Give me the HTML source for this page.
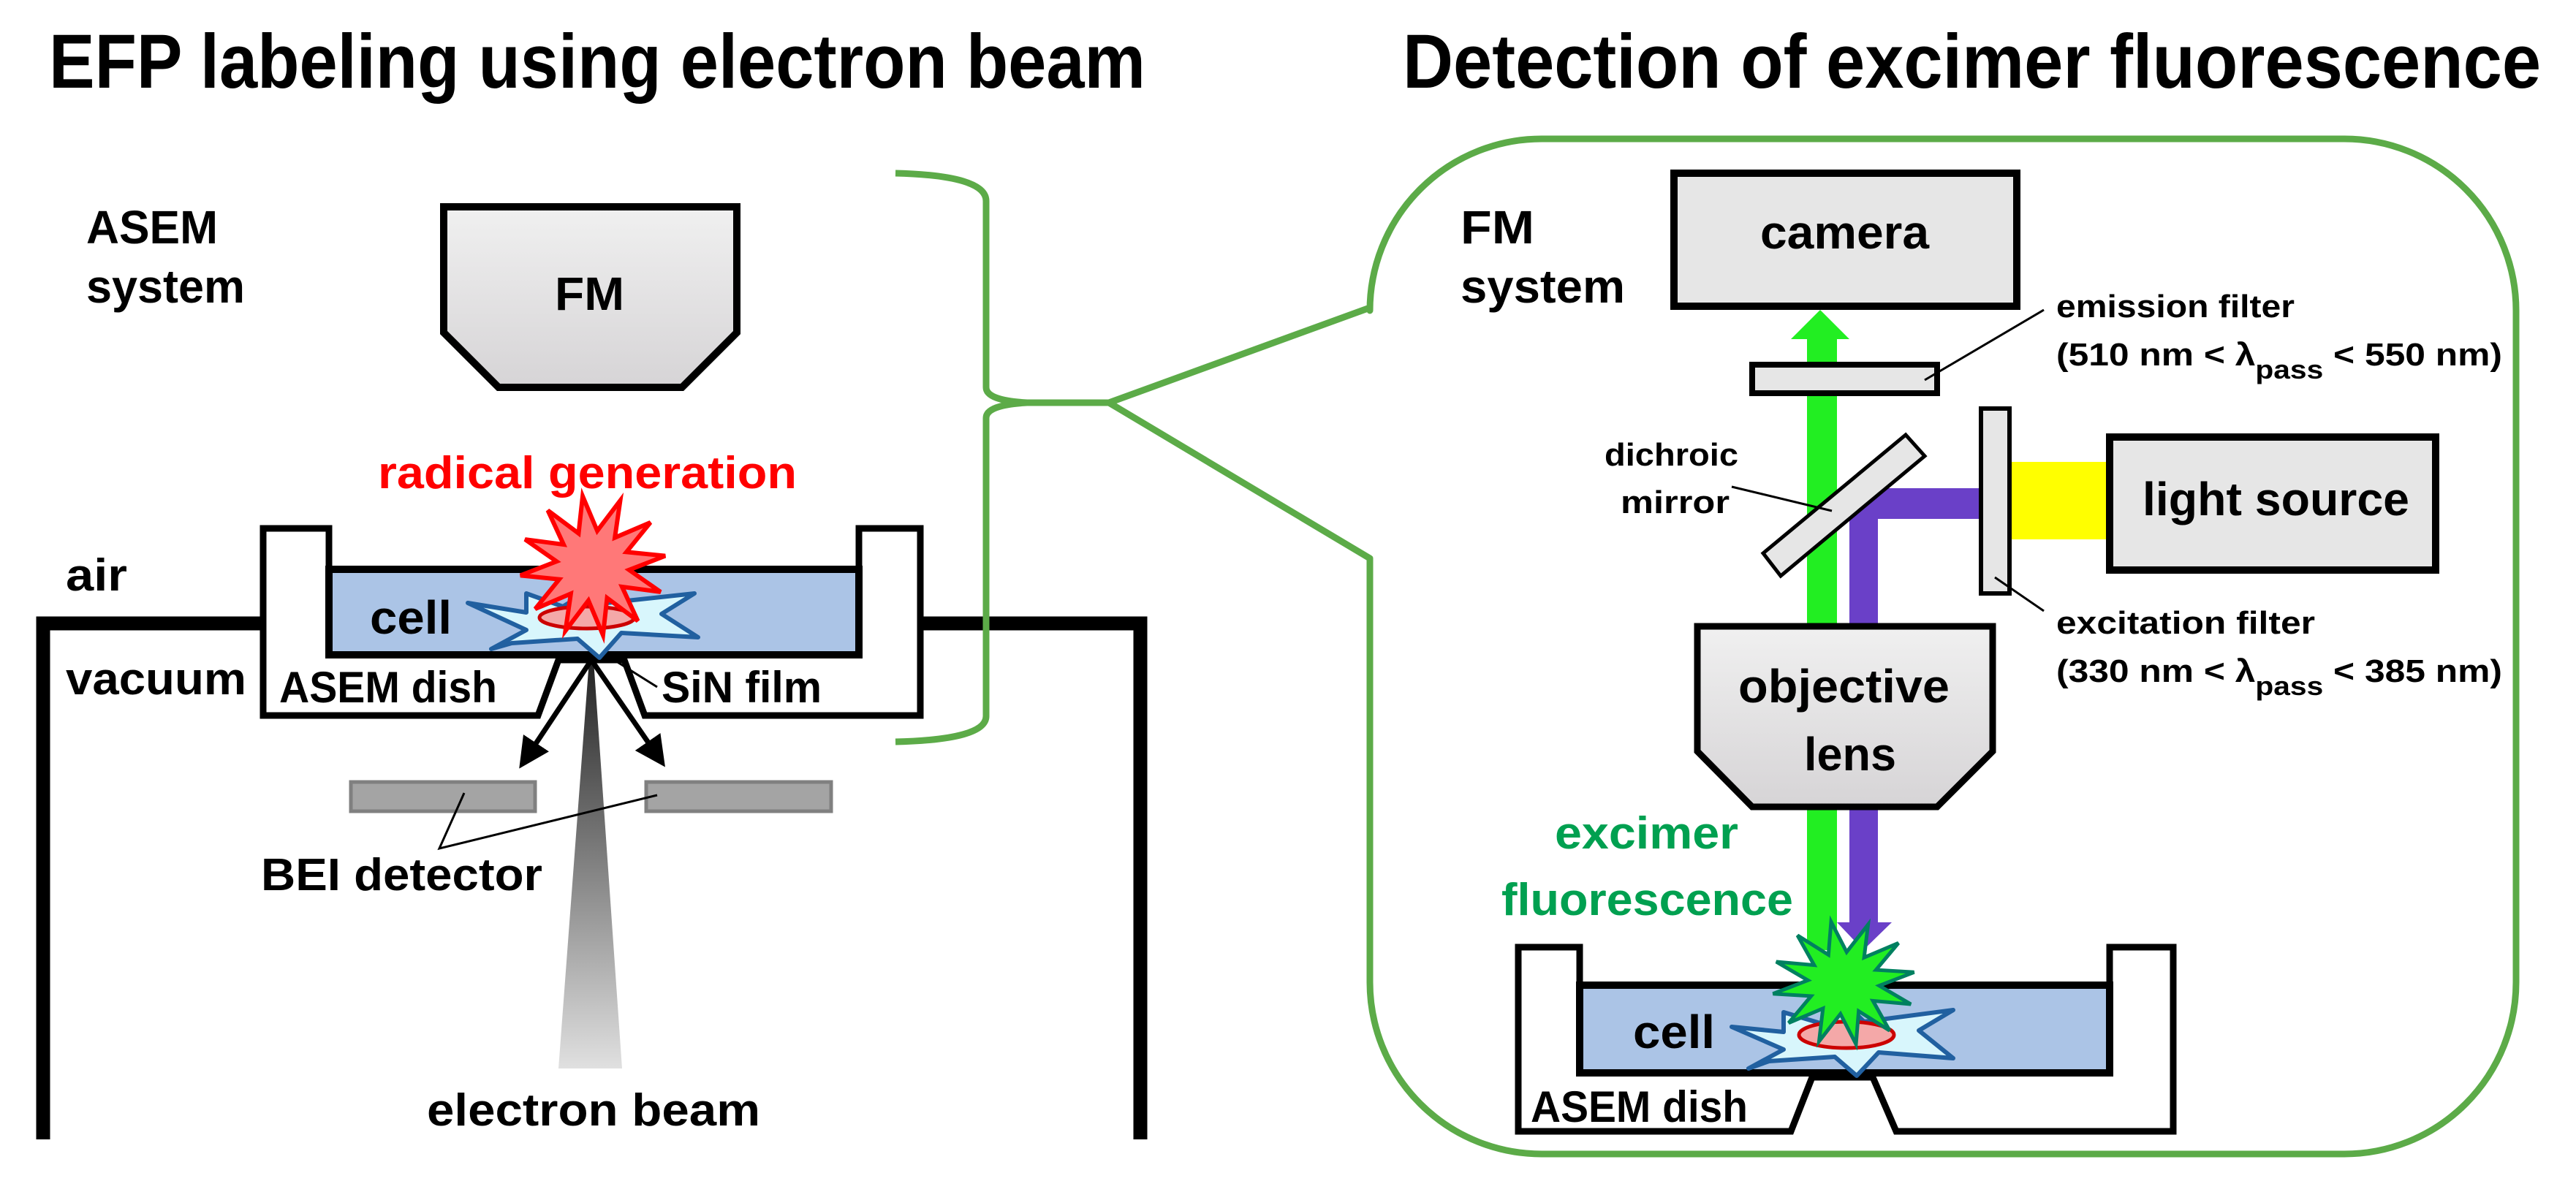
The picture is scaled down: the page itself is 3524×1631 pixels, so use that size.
<!DOCTYPE html>
<html><head><meta charset="utf-8"><style>html,body{margin:0;padding:0;background:#fff}svg{display:block}text{font-family:"Liberation Sans",sans-serif;font-weight:bold}</style></head>
<body>
<svg width="3524" height="1631" viewBox="0 0 3524 1631" xmlns="http://www.w3.org/2000/svg">
<defs>
<linearGradient id="gr" x1="0" y1="0" x2="0" y2="1"><stop offset="0" stop-color="#f0f0f0"/><stop offset="1" stop-color="#d6d4d6"/></linearGradient>
<linearGradient id="beam" x1="0" y1="0" x2="0" y2="1"><stop offset="0" stop-color="#222"/><stop offset="1" stop-color="#e0e0e0"/></linearGradient>
<marker id="ah" markerWidth="6" markerHeight="6" refX="4" refY="3" orient="auto" markerUnits="strokeWidth"><path d="M0,0 L6,3 L0,6 Z" fill="#000"/></marker>
</defs>
<!-- titles -->
<text x="67" y="120" font-size="105" textLength="1500" lengthAdjust="spacingAndGlyphs">EFP labeling using electron beam</text>
<text x="1919" y="120" font-size="105" textLength="1557" lengthAdjust="spacingAndGlyphs">Detection of excimer fluorescence</text>

<!-- LEFT PANEL -->
<text x="118" y="333" font-size="64" textLength="180" lengthAdjust="spacingAndGlyphs">ASEM</text>
<text x="118" y="414" font-size="64" textLength="217" lengthAdjust="spacingAndGlyphs">system</text>
<polygon points="607,283 1008,283 1008,455 933,530 682,530 607,455" fill="url(#gr)" stroke="#000" stroke-width="10"/>
<text x="759" y="424" font-size="64" textLength="95" lengthAdjust="spacingAndGlyphs">FM</text>

<!-- chamber -->
<polyline points="59,1559 59,853 360,853" fill="none" stroke="#000" stroke-width="19"/>
<polyline points="1259,853 1560,853 1560,1559" fill="none" stroke="#000" stroke-width="19"/>
<text x="90" y="808" font-size="62" textLength="84" lengthAdjust="spacingAndGlyphs">air</text>
<text x="90" y="950" font-size="62" textLength="247" lengthAdjust="spacingAndGlyphs">vacuum</text>

<!-- beam -->
<polygon points="806,903 812,903 851,1462 764,1462" fill="url(#beam)"/>

<!-- dish -->
<polygon points="360,723 450,723 450,779 1175,779 1175,723 1259,723 1259,979 882,979 854,903 764,903 736,979 360,979" fill="#fff" stroke="#000" stroke-width="9"/>
<rect x="450" y="779" width="725" height="117" fill="#abc4e6" stroke="#000" stroke-width="10"/>
<path d="M640,825 L720,838 L720,812 L770,830 L810,805 L830,825 L950,812 L905,840 L955,872 L850,866 L820,900 L790,874 L700,880 L672,888 L720,862 Z" fill="#d8f6fc" stroke="#2160a0" stroke-width="6" stroke-linejoin="round"/>
<ellipse cx="803" cy="845" rx="65" ry="15" fill="#f4a8a8" stroke="#c00" stroke-width="5"/>
<polygon transform="translate(811,774) scale(100,96) rotate(-8)" vector-effect="non-scaling-stroke" points="1,0 .483,.129 .866,.5 .354,.354 .5,.866 .129,.483 0,1 -.129,.483 -.5,.866 -.354,.354 -.866,.5 -.483,.129 -1,0 -.483,-.129 -.866,-.5 -.354,-.354 -.5,-.866 -.129,-.483 0,-1 .129,-.483 .5,-.866 .354,-.354 .866,-.5 .483,-.129" fill="#ff7878" stroke="#ff0000" stroke-width="6" style="vector-effect:non-scaling-stroke"/>
<text x="517" y="668" font-size="62" fill="#ff0000" textLength="573" lengthAdjust="spacingAndGlyphs">radical generation</text>
<text x="506" y="867" font-size="64" textLength="112" lengthAdjust="spacingAndGlyphs">cell</text>
<text x="382" y="961" font-size="60" textLength="298" lengthAdjust="spacingAndGlyphs">ASEM dish</text>
<text x="905" y="961" font-size="60" textLength="219" lengthAdjust="spacingAndGlyphs">SiN film</text>
<line x1="899" y1="940" x2="840" y2="903" stroke="#000" stroke-width="3"/>

<!-- arrows -->
<line x1="809" y1="903" x2="718" y2="1040" stroke="#000" stroke-width="7" marker-end="url(#ah)"/>
<line x1="809" y1="903" x2="902" y2="1038" stroke="#000" stroke-width="7" marker-end="url(#ah)"/>

<!-- detectors -->
<rect x="480" y="1070" width="252" height="40" fill="#a4a4a4" stroke="#808080" stroke-width="5"/>
<rect x="884" y="1070" width="253" height="40" fill="#a4a4a4" stroke="#808080" stroke-width="5"/>
<polyline points="635,1085 601,1161 899,1088" fill="none" stroke="#000" stroke-width="3"/>
<text x="357" y="1218" font-size="62" textLength="385" lengthAdjust="spacingAndGlyphs">BEI detector</text>
<text x="584" y="1540" font-size="62" textLength="456" lengthAdjust="spacingAndGlyphs">electron beam</text>

<!-- green bracket & callout -->
<path d="M1225,237 Q1349,240 1349,275 L1349,530 Q1349,548 1405,551 Q1349,554 1349,572 L1349,980 Q1349,1012 1225,1015" fill="none" stroke="#5cab48" stroke-width="9"/>
<path d="M1405,551 L1517,551 L1874,421 L1874,425 A235,235 0 0 1 2109,190 L3207,190 A235,235 0 0 1 3442,425 L3442,1344 A235,235 0 0 1 3207,1579 L2109,1579 A235,235 0 0 1 1874,1344 L1874,764 L1517,551" fill="none" stroke="#5cab48" stroke-width="9" stroke-linejoin="round"/>

<!-- RIGHT PANEL -->
<text x="1998" y="333" font-size="64" textLength="101" lengthAdjust="spacingAndGlyphs">FM</text>
<text x="1998" y="414" font-size="64" textLength="225" lengthAdjust="spacingAndGlyphs">system</text>
<rect x="2290" y="237" width="469" height="182" fill="#e6e6e6" stroke="#000" stroke-width="10"/>
<text x="2408" y="340" font-size="64" textLength="231" lengthAdjust="spacingAndGlyphs">camera</text>

<!-- green beam -->
<rect x="2472" y="460" width="41" height="840" fill="#22ee22"/>
<polygon points="2450,464 2530,464 2490,424" fill="#22ee22"/>
<!-- purple beam -->
<polygon points="2530,668 2710,668 2710,710 2569,710 2569,1262 2588,1262 2549,1300 2513,1262 2530,1262" fill="#6a40c8"/>
<!-- yellow -->
<rect x="2749" y="632" width="137" height="106" fill="#ffff00"/>

<rect x="2397" y="499" width="253" height="39" fill="#e6e6e6" stroke="#000" stroke-width="8"/>
<line x1="2633" y1="520" x2="2796" y2="424" stroke="#000" stroke-width="3"/>
<text x="2813" y="434" font-size="44" textLength="326" lengthAdjust="spacingAndGlyphs">emission filter</text>
<text x="2813" y="500" font-size="44" textLength="610" lengthAdjust="spacingAndGlyphs">(510 nm &lt; λ<tspan font-size="36" dy="18">pass</tspan><tspan dy="-18"> &lt; 550 nm)</tspan></text>

<polygon points="2412,757 2436,788 2633,624 2607,595" fill="#e6e6e6" stroke="#000" stroke-width="5"/>
<line x1="2369" y1="666" x2="2506" y2="699" stroke="#000" stroke-width="3"/>
<text x="2195" y="637" font-size="44" textLength="183" lengthAdjust="spacingAndGlyphs">dichroic</text>
<text x="2217" y="702" font-size="44" textLength="149" lengthAdjust="spacingAndGlyphs">mirror</text>

<rect x="2710" y="559" width="39" height="253" fill="#e6e6e6" stroke="#000" stroke-width="6"/>
<line x1="2729" y1="790" x2="2796" y2="836" stroke="#000" stroke-width="3"/>
<text x="2813" y="867" font-size="44" textLength="354" lengthAdjust="spacingAndGlyphs">excitation filter</text>
<text x="2813" y="933" font-size="44" textLength="610" lengthAdjust="spacingAndGlyphs">(330 nm &lt; λ<tspan font-size="36" dy="18">pass</tspan><tspan dy="-18"> &lt; 385 nm)</tspan></text>

<rect x="2886" y="598" width="446" height="182" fill="#e6e6e6" stroke="#000" stroke-width="10"/>
<text x="2931" y="705" font-size="64" textLength="365" lengthAdjust="spacingAndGlyphs">light source</text>

<polygon points="2322,857 2726,857 2726,1028 2650,1104 2397,1104 2322,1028" fill="url(#gr)" stroke="#000" stroke-width="9"/>
<text x="2378" y="961" font-size="64" textLength="289" lengthAdjust="spacingAndGlyphs">objective</text>
<text x="2468" y="1054" font-size="64" textLength="126" lengthAdjust="spacingAndGlyphs">lens</text>

<text x="2127" y="1161" font-size="62" fill="#00a050" textLength="251" lengthAdjust="spacingAndGlyphs">excimer</text>
<text x="2054" y="1252" font-size="62" fill="#00a050" textLength="399" lengthAdjust="spacingAndGlyphs">fluorescence</text>

<!-- right dish -->
<polygon points="2077,1296 2161,1296 2161,1348 2886,1348 2886,1296 2973,1296 2973,1548 2594,1548 2562,1474 2479,1474 2450,1548 2077,1548" fill="#fff" stroke="#000" stroke-width="9"/>
<rect x="2161" y="1348" width="725" height="120" fill="#abc4e6" stroke="#000" stroke-width="10"/>
<path d="M2369,1405 L2440,1412 L2440,1385 L2490,1400 L2530,1378 L2550,1398 L2672,1382 L2625,1410 L2672,1448 L2570,1440 L2540,1472 L2510,1446 L2420,1452 L2392,1462 L2440,1436 Z" fill="#d8f6fc" stroke="#2160a0" stroke-width="6" stroke-linejoin="round"/>
<ellipse cx="2526" cy="1416" rx="65" ry="18" fill="#f4a8a8" stroke="#c00" stroke-width="5"/>
<polygon transform="translate(2522,1345) scale(98,85) rotate(-10)" points="1,0 .483,.129 .866,.5 .354,.354 .5,.866 .129,.483 0,1 -.129,.483 -.5,.866 -.354,.354 -.866,.5 -.483,.129 -1,0 -.483,-.129 -.866,-.5 -.354,-.354 -.5,-.866 -.129,-.483 0,-1 .129,-.483 .5,-.866 .354,-.354 .866,-.5 .483,-.129" fill="#22ee22" stroke="#008060" stroke-width="5" style="vector-effect:non-scaling-stroke"/>
<text x="2234" y="1434" font-size="64" textLength="112" lengthAdjust="spacingAndGlyphs">cell</text>
<text x="2094" y="1535" font-size="60" textLength="297" lengthAdjust="spacingAndGlyphs">ASEM dish</text>
</svg>
</body></html>
